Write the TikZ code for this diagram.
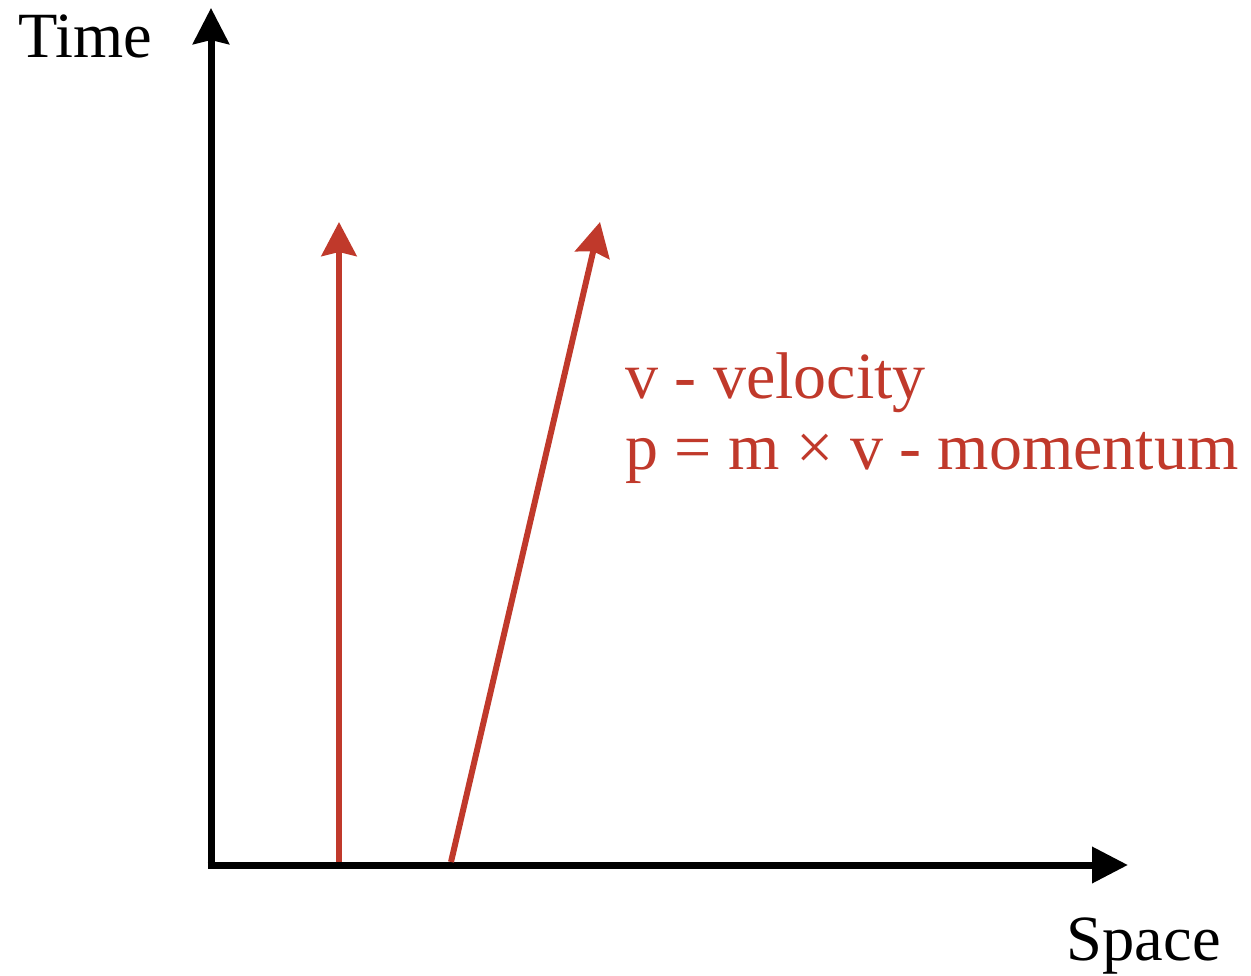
\documentclass[tikz,border=0pt]{standalone}
\usepackage{fontspec}
\setmainfont{Liberation Serif}
\usetikzlibrary{arrows.meta}
\definecolor{vred}{HTML}{C0392B}
\begin{document}
\begin{tikzpicture}[x=1pt,y=-1pt,
  axis/.style={line width=7pt},
  vec/.style={vred,line width=6pt,-{Stealth[length=34pt,width=35pt,inset=4pt]}},
  lbl/.style={inner sep=0pt,font=\fontsize{64.5}{70}\selectfont},
  rlbl/.style={lbl,text=vred,font=\fontsize{66}{70}\selectfont}]
\useasboundingbox (0,0) rectangle (1251,976);
\coordinate (O) at (211,865);
\coordinate (ytip) at (211,8);
\coordinate (xtip) at (1128,865);
\coordinate (a1s) at (339,862);
\coordinate (a1e) at (339,222);
\coordinate (a2s) at (451,862);
\coordinate (a2e) at (600,222);
\draw[axis,-{Stealth[length=36pt,width=36pt,inset=4pt]}] ([yshift=3.5pt]O) -- (ytip);
\draw[axis,-{Triangle[length=36pt,width=35pt]}] ([xshift=-3.5pt]O) -- (xtip);
\draw[vec] (a1s) -- (a1e);
\draw[vec] (a2s) -- (a2e);
\node[lbl,anchor=base west] (time) at (18,58) {Time};
\node[lbl,anchor=base east] (space) at (1221,960) {Space};
\node[rlbl,anchor=base west] (v) at (625,399) {v - velocity};
\node[rlbl,anchor=base west] (p) at (625,469) {p = m × v - momentum};
\end{tikzpicture}
\end{document}
